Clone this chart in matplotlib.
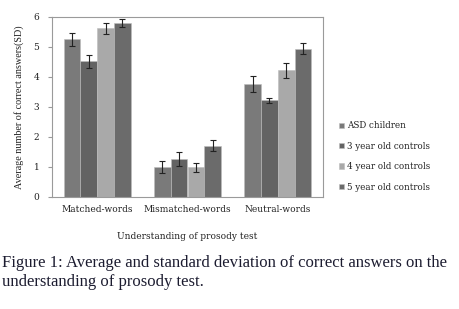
import numpy as np
import matplotlib.pyplot as plt

categories = ["Matched-words", "Mismatched-words", "Neutral-words"]
groups = ["ASD children", "3 year old controls", "4 year old controls", "5 year old controls"]
means = {
    "ASD children": [5.26, 0.99, 3.77],
    "3 year old controls": [4.52, 1.27, 3.22],
    "4 year old controls": [5.62, 0.99, 4.23],
    "5 year old controls": [5.79, 1.71, 4.94],
}
sds = {
    "ASD children": [0.22, 0.20, 0.28],
    "3 year old controls": [0.23, 0.23, 0.08],
    "4 year old controls": [0.17, 0.16, 0.25],
    "5 year old controls": [0.13, 0.19, 0.18],
}
colors = ["#7a7a7a", "#636363", "#a9a9a9", "#6b6b6b"]

fig = plt.figure(figsize=(4.6, 3.09), dpi=100)
ax = fig.add_axes([52 / 460, 1 - 197 / 309, 271 / 460, 180 / 309])

x = np.arange(len(categories))
w = 0.185
for i, g in enumerate(groups):
    ax.bar(x + (i - 1.5) * w, means[g], w, yerr=sds[g], color=colors[i],
           edgecolor="#bdbdbd", linewidth=0.4, label=g,
           error_kw=dict(ecolor="#222222", elinewidth=0.8, capsize=2.2, capthick=0.8))

ax.set_xlim(-0.5, 2.5)
ax.set_ylim(0, 6)
ax.set_yticks(range(7))
ax.set_xticks(x)
ax.set_xticklabels(categories)
for s in ax.spines.values():
    s.set_color("#9a9a9a")
    s.set_linewidth(0.8)
ax.tick_params(axis="x", length=0, labelsize=6.5, pad=6)
ax.tick_params(axis="y", length=3, color="#9a9a9a", labelsize=6.5, pad=6)
for t in ax.get_xticklabels() + ax.get_yticklabels():
    t.set_family("DejaVu Serif")
    t.set_color("#222222")

ax.set_ylabel("Average number of correct answers(SD)", fontsize=7.3, family="Liberation Serif",
              color="#222222", labelpad=7)
ax.set_xlabel("Understanding of prosody test", fontsize=6.5, family="DejaVu Serif",
              color="#222222", labelpad=13)

ax.legend(loc="center left", bbox_to_anchor=(1.03, 0.225), frameon=False,
          prop=dict(family="DejaVu Serif", size=6.3), handlelength=0.55, handleheight=0.55,
          handletextpad=0.4, labelspacing=1.3, labelcolor="#222222")

fig.text(0.004, 1 - 263 / 309, "Figure 1: Average and standard deviation of correct answers on the",
         fontsize=12, family="Liberation Serif", color="#1c1c30", va="center")
fig.text(0.004, 1 - 282 / 309, "understanding of prosody test.",
         fontsize=12, family="Liberation Serif", color="#1c1c30", va="center")

fig.savefig("out.png", dpi=100)
